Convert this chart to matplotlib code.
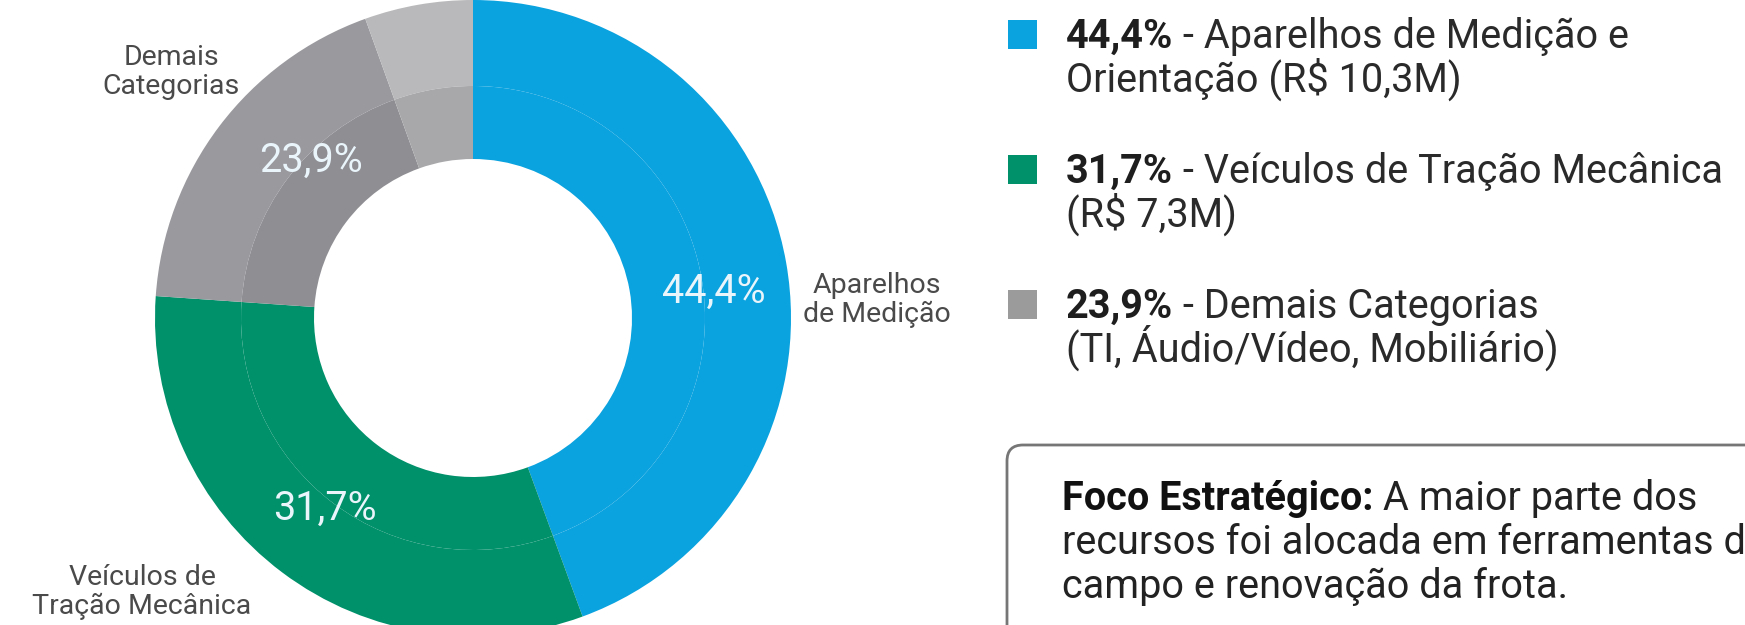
import matplotlib.pyplot as plt
from matplotlib.patches import FancyBboxPatch, Rectangle

plt.rcParams['font.family'] = ['Roboto', 'DejaVu Sans']

# spending share per category group (%)
shares = [44.4, 31.7, 23.9]
group_names = ['Aparelhos de Medição e', 'Veículos de Tração Mecânica', 'Demais Categorias']
group_details = ['Orientação (R\\$ 10,3M)', '(R\\$ 7,3M)', '(TI, Áudio/Vídeo, Mobiliário)']
ring_labels = ['Aparelhos\nde Medição', 'Veículos de\nTração Mecânica', 'Demais\nCategorias']
colors = ['#0aa2df', '#00906a', '#9b9b9b']

# the "Demais" slice is drawn as two gray shades
others_parts = [18.4, 5.5]
others_outer = ['#9a999e', '#b9b9bb']
others_inner = ['#8f8e93', '#a8a8ab']

W, H = 1745, 625
fig = plt.figure(figsize=(W / 100, H / 100), dpi=100)
ax = fig.add_axes([0, 0, 1, 1])

center = (473, 307)
r_out, r_mid, r_in = 318, 232, 159

ring_vals = shares[:2] + others_parts
ax.pie(ring_vals, colors=colors[:2] + others_outer, radius=r_out, center=center,
       startangle=90, counterclock=False,
       wedgeprops=dict(width=r_out - r_mid, linewidth=0))
ax.pie(ring_vals, colors=colors[:2] + others_inner, radius=r_mid, center=center,
       startangle=90, counterclock=False,
       wedgeprops=dict(width=r_mid - r_in, linewidth=0))


def fmt_pct(p):
    return f'{p:.1f}%'.replace('.', ',')


# percentage labels inside the ring
pct_pos = [(714, 322), (325, 105), (311, 453)]
for s, (x, y) in zip(shares, pct_pos):
    ax.text(x, y, fmt_pct(s), ha='center', va='baseline', fontsize=28.5,
            color='#e9f5fb')

# names around the ring
label_pos = [(877, 325), (142, 33), (171, 553)]
for txt, (x, y) in zip(ring_labels, label_pos):
    ax.text(x, y, txt, ha='center', va='center', fontsize=20.5,
            color='#4a4a4a', linespacing=1.05)

# legend on the right
fs = 28.5
for i, (s, name, detail) in enumerate(zip(shares, group_names, group_details)):
    base = H - (48 + i * 135)
    ax.add_patch(Rectangle((1008, base - 1), 29, 29, color=colors[i], linewidth=0))
    t = ax.text(1066, base, fmt_pct(s), fontsize=fs, fontweight='bold',
                color='#1e1e1e', va='baseline')
    ax.annotate(' - ' + name, xy=(1, base), xycoords=(t, 'data'), fontsize=fs,
                color='#2a2a2a', va='baseline')
    ax.text(1066, base - 44, detail, fontsize=fs, color='#2a2a2a', va='baseline')

# highlight box
ax.add_patch(FancyBboxPatch((1007, -60), 900, 240,
                            boxstyle='round,pad=0,rounding_size=16',
                            facecolor='white', edgecolor='#767676', linewidth=2))
t = ax.text(1062, 115, 'Foco Estratégico:', fontsize=fs, fontweight='bold',
            color='#111111', va='baseline')
ax.annotate(' A maior parte dos', xy=(1, 115), xycoords=(t, 'data'), fontsize=fs,
            color='#222222', va='baseline')
ax.text(1062, 71, 'recursos foi alocada em ferramentas de', fontsize=fs,
        color='#222222', va='baseline')
ax.text(1062, 27, 'campo e renovação da frota.', fontsize=fs,
        color='#222222', va='baseline')

ax.set_xlim(0, W)
ax.set_ylim(0, H)
ax.set_aspect('equal', adjustable='box')
ax.axis('off')

fig.savefig('out.png', dpi=100, facecolor='white')
